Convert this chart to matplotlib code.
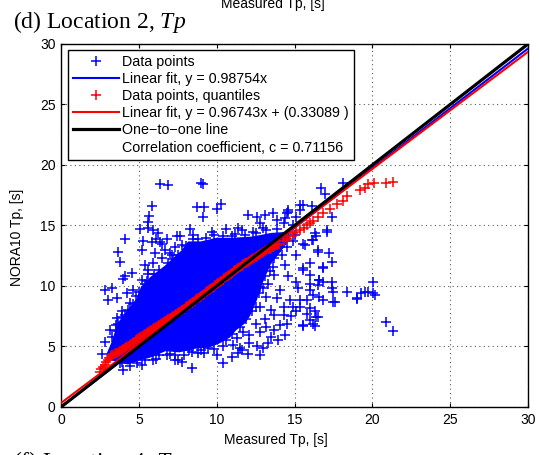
import matplotlib
matplotlib.use("Agg")
import matplotlib.pyplot as plt
from matplotlib.lines import Line2D

plt.rcParams['font.family'] = ['Liberation Sans', 'DejaVu Sans']
plt.rcParams['mathtext.fontset'] = 'custom'
plt.rcParams['mathtext.rm'] = 'Liberation Serif'
plt.rcParams['mathtext.it'] = 'Liberation Serif:italic'

# outline of the solid blue core of the cloud (measured Tp, NORA10 Tp)
core_x = [3.0, 3.4, 4.3, 5.0, 5.8, 6.7, 7.6, 8.6, 9.5, 10.1, 10.8, 11.2, 11.8, 12.1, 12.5, 12.9,
          13.4, 14.0, 14.6, 14.6, 13.5, 12.3, 11.0, 10.0, 9.0, 8.2, 7.8, 6.7, 5.8, 5.2, 4.9, 4.4, 3.7, 3.3]
core_y = [4.4, 3.9, 3.6, 3.9, 4.2, 4.7, 4.6, 4.9, 5.0, 5.3, 5.8, 6.4, 7.0, 7.6, 8.8, 10.3,
          11.8, 12.8, 13.8, 14.4, 14.3, 14.0, 13.9, 13.9, 13.6, 13.6, 12.9, 11.6, 10.7, 9.9, 8.9, 8.1, 6.9, 5.3]

# scattered data points outside the core
pts_x = [6.36, 6.85, 8.97, 9.14, 5.82, 8.71, 9.18, 10.0, 10.3, 9.1, 5.67, 5.57, 5.07, 5.61, 5.93, 4.11,
         6.25, 6.08, 6.79, 7.43, 7.64, 8.29, 8.5, 8.82, 9.68, 10.6, 11.4, 10.96, 5.29, 6.47,
         16.7, 16.96, 15.56, 16.1, 15.35, 14.6, 14.5, 13.1, 12.57, 12.0, 13.6, 15.1, 17.4, 17.1, 16.4, 16.1,
         16.3, 14.9, 14.3, 13.85, 12.8, 11.6, 12.35, 13.0, 18.1,
         5.82, 6.36, 3.68, 3.79, 5.18, 6.04, 6.68, 7.1, 7.32, 7.75, 5.93, 5.4, 5.6, 4.54, 4.11, 5.18,
         2.83, 3.26, 3.58, 3.04, 4.22, 4.65, 3.9, 4.32, 4.75, 5.07, 6.47, 4.0,
         15.56, 15.1, 16.5, 17.2, 14.4, 16.0, 16.85, 17.4, 15.56, 13.7, 14.6, 16.0, 16.6, 16.85, 17.4, 15.1,
         15.25, 16.0, 16.5, 17.5, 18.35, 19.0, 19.3, 19.7, 20.06, 20.06, 17.6, 16.85, 16.2, 15.8, 15.35, 16.0,
         16.3, 14.7, 14.3, 13.85, 14.07, 13.3, 12.8,
         20.9, 21.35, 15.56, 16.3, 16.5, 16.0, 15.8, 15.1, 14.5, 14.07, 14.4, 13.96, 13.5, 13.7, 13.3, 13.0,
         12.8, 12.0, 12.6, 11.6, 12.1, 12.8, 13.2, 12.1, 11.7, 12.5, 13.1, 13.7, 14.3, 14.8,
         8.4, 7.75, 7.32, 6.79, 4.0, 3.79, 2.83, 2.61, 3.15, 3.58, 3.68, 10.4, 10.0, 10.96, 11.4, 11.5,
         11.07, 8.82, 8.4, 9.46, 11.3, 3.9, 7.53,
         20.17, 19.5, 19.0, 16.85, 15.56, 17.06, 16.5, 16.2, 15.7, 14.6, 14.4, 15.35, 16.2, 16.4, 15.56, 14.9,
         15.35, 16.6, 17.5, 16.0, 16.6, 17.4,
         11.9, 12.35, 12.1, 12.8, 12.35, 13.2, 12.8, 13.5, 11.8, 13.6, 14.07, 13.2]
pts_y = [18.4, 18.35, 18.5, 18.4, 16.6, 16.5, 16.55, 16.4, 16.8, 15.7, 15.8, 15.3, 14.7, 14.8, 14.6, 13.9,
         14.35, 13.9, 13.9, 14.1, 14.1, 14.7, 14.2, 13.9, 14.5, 14.7, 14.8, 14.1, 13.7, 13.5,
         18.1, 17.6, 16.7, 16.6, 16.3, 16.3, 16.0, 15.9, 15.7, 15.9, 16.0, 15.7, 15.7, 14.5, 14.1, 13.8,
         14.4, 15.0, 15.2, 15.45, 15.2, 14.6, 14.5, 14.8, 18.5,
         13.66, 13.6, 12.8, 12.0, 13.0, 12.7, 13.0, 12.56, 13.25, 13.4, 11.9, 11.7, 11.3, 11.05, 10.8, 10.5,
         9.67, 9.8, 9.0, 8.84, 9.4, 9.67, 7.9, 8.0, 8.16, 8.57, 12.3, 10.6,
         13.5, 12.56, 12.8, 12.7, 11.7, 11.9, 11.6, 12.0, 11.3, 10.9, 10.8, 10.9, 10.5, 10.35, 10.35, 10.35,
         9.8, 9.67, 10.1, 9.5, 9.5, 8.9, 9.4, 9.5, 10.35, 9.4, 8.7, 8.84, 9.26, 8.84, 8.3, 8.16,
         7.9, 8.84, 8.3, 9.0, 9.67, 10.2, 11.2,
         7.0, 6.3, 6.7, 6.7, 7.4, 7.2, 7.7, 7.9, 6.9, 6.8, 5.95, 5.5, 5.8, 6.4, 5.26, 4.85,
         4.3, 4.4, 5.04, 4.7, 5.26, 6.2, 6.6, 5.95, 6.2, 6.9, 7.3, 7.6, 7.6, 7.5,
         3.2, 3.75, 3.9, 4.3, 3.06, 3.6, 5.4, 4.4, 6.36, 7.33, 6.9, 3.6, 4.3, 4.16, 4.44, 4.85,
         5.12, 4.44, 4.57, 4.85, 5.7, 3.75, 3.9,
         9.26, 9.5, 9.0, 11.5, 11.46, 14.6, 13.0, 13.8, 13.4, 16.1, 15.6, 16.7, 6.9, 7.46, 6.8, 8.3,
         8.84, 9.1, 8.7, 10.2, 10.5, 9.8,
         12.4, 11.6, 10.8, 9.9, 9.4, 9.1, 8.3, 8.0, 8.3, 11.6, 13.25, 13.25]

# data points hugging the edge of the core
edge_x = [3.3, 3.5, 3.9, 4.1, 4.6, 4.8, 5.0, 5.4, 5.5, 6.0, 6.3, 6.9, 7.2, 7.5, 8.0, 8.5, 9.3, 9.8,
          10.4, 11.2, 11.8, 12.5, 13.2, 13.9, 7.0, 5.6, 4.4, 3.5,
          3.6, 4.4, 4.9, 5.4, 5.9, 6.3, 7.0, 7.9, 8.2, 9.0, 9.8, 10.4, 10.6, 11.0, 11.5, 11.9,
          12.3, 12.5, 12.7, 13.0, 13.1, 13.4, 13.7, 14.2, 14.5, 14.9, 15.0, 6.1, 7.3, 5.2, 9.2]
edge_y = [5.8, 6.3, 7.4, 7.6, 8.5, 9.2, 9.5, 10.2, 10.4, 11.0, 11.3, 11.9, 12.2, 12.6, 13.3, 13.9, 14.0, 14.2,
          14.1, 14.3, 14.2, 14.4, 14.6, 14.7, 12.7, 11.0, 8.6, 6.8,
          3.9, 3.4, 3.6, 3.9, 3.9, 4.3, 4.4, 4.3, 4.7, 4.7, 4.8, 5.0, 5.5, 6.0, 6.6, 7.3,
          7.9, 8.3, 9.4, 9.8, 10.8, 11.2, 12.3, 12.6, 13.2, 13.7, 14.2, 4.0, 4.3, 3.5, 4.5]

# quantile-quantile points (measured quantile, NORA10 quantile)
q_x = [2.5, 2.6, 2.7, 2.8, 2.9, 3.0, 3.1, 3.2, 3.3, 3.4, 3.5, 3.6, 3.7, 3.8, 3.9, 4.0, 4.1, 4.2, 4.3, 4.4,
       4.5, 4.6, 4.7, 4.8, 4.9, 5.0, 5.1, 5.2, 5.3, 5.4, 5.5, 5.6, 5.7, 5.8, 5.9, 6.0, 6.1, 6.2, 6.3, 6.4,
       6.5, 6.6, 6.7, 6.8, 6.9, 7.0, 7.1, 7.2, 7.3, 7.4, 7.5, 7.6, 7.7, 7.8, 7.9, 8.0, 8.1, 8.2, 8.3, 8.4,
       8.5, 8.6, 8.7, 8.8, 8.9, 9.0, 9.1, 9.2, 9.3, 9.4, 9.5, 9.6, 9.7, 9.8, 9.9, 10.0, 10.1, 10.2, 10.3, 10.4,
       10.5, 10.6, 10.7, 10.8, 10.9, 11.0, 11.1, 11.2, 11.3, 11.4, 11.5, 11.6, 11.7, 11.8, 11.9, 12.0, 12.1,
       12.2, 12.3, 12.4, 12.5, 12.6, 12.7, 12.8, 12.9, 13.0, 13.1, 13.2, 13.3, 13.4, 13.5, 13.6, 13.7, 13.8,
       13.9, 14.0, 14.3, 14.5, 14.7, 14.9, 15.1, 15.35, 15.6, 15.8, 16.0, 16.2, 16.5, 16.85, 17.3, 17.7,
       18.1, 18.35, 19.2, 19.5, 19.7, 20.1, 20.9, 21.35]
q_y = [2.9, 3.1, 3.3, 3.5, 3.7, 3.9, 4.05, 4.2, 4.3, 4.37, 4.43, 4.5, 4.58, 4.65, 4.72, 4.8, 4.88, 4.97, 5.06, 5.15,
       5.23, 5.32, 5.41, 5.5, 5.58, 5.67, 5.75, 5.84, 5.92, 6.01, 6.1, 6.18, 6.26, 6.34, 6.42, 6.5, 6.58, 6.67, 6.75, 6.83,
       6.92, 7.0, 7.08, 7.17, 7.25, 7.33, 7.42, 7.5, 7.59, 7.69, 7.78, 7.87, 7.96, 8.05, 8.14, 8.24, 8.33, 8.42, 8.51, 8.6,
       8.7, 8.79, 8.89, 8.99, 9.08, 9.18, 9.28, 9.37, 9.47, 9.57, 9.66, 9.76, 9.86, 9.95, 10.05, 10.15, 10.24, 10.34, 10.44, 10.53,
       10.63, 10.73, 10.82, 10.92, 11.02, 11.11, 11.21, 11.31, 11.4, 11.5, 11.6, 11.69, 11.79, 11.86, 11.93, 12.0, 12.08,
       12.17, 12.25, 12.33, 12.42, 12.5, 12.58, 12.67, 12.75, 12.82, 12.88, 12.95, 13.02, 13.08, 13.15, 13.22, 13.28, 13.35,
       13.4, 13.46, 13.7, 13.9, 14.1, 14.35, 14.45, 14.6, 14.8, 15.0, 15.2, 15.4, 15.7, 16.0, 16.4, 16.75,
       17.0, 17.4, 17.9, 18.1, 18.4, 18.5, 18.55, 18.6]

slope_all = 0.98754
slope_q = 0.96743
icpt_q = 0.33089
corr = 0.71156
line_x = [0, 30]

fig = plt.figure(figsize=(5.4, 4.55), dpi=100)
ax = fig.add_axes([0.113, 0.1055, 0.8648, 0.7978])

mk = dict(ms=6.5, mew=1.1)
ax.fill(core_x, core_y, color='#0000ff', lw=1.5, ec='#0000ff', zorder=2)
h_pts, = ax.plot(pts_x, pts_y, '+', color='#0000ff', zorder=2, label='Data points', **mk)
ax.plot(edge_x, edge_y, '+', color='#0000ff', zorder=2, **mk)
h_bl, = ax.plot(line_x, [slope_all * v for v in line_x], color='#0000ff', lw=1.5, zorder=3,
                label='Linear fit, y = %.5fx' % slope_all)
h_q, = ax.plot(q_x, q_y, '+', color='#ff0000', zorder=4, label='Data points, quantiles', **mk)
h_rl, = ax.plot(line_x, [slope_q * v + icpt_q for v in line_x], color='#ff0000', lw=1.5, zorder=5,
                label='Linear fit, y = %.5fx + (%.5f )' % (slope_q, icpt_q))
h_k, = ax.plot(line_x, line_x, color='k', lw=2.3, zorder=6, label='One\u2212to\u2212one line')
h_c = Line2D([], [], ls='none', label='Correlation coefficient, c = %.5f' % corr)

ax.set_xlim(0, 30)
ax.set_ylim(0, 30)
ax.set_xticks(range(0, 31, 5))
ax.set_yticks(range(0, 31, 5))
ax.tick_params(direction='in', top=True, right=True, length=3, width=0.8, labelsize=10, pad=4)
ax.grid(True, ls=(0, (1, 3)), color='0.35', lw=0.8)
ax.set_axisbelow(True)
for s in ax.spines.values():
    s.set_linewidth(1.0)

ax.set_xlabel('Measured Tp, [s]', fontsize=10)
ax.xaxis.set_label_coords(0.46, -0.073)
ax.set_ylabel('NORA10 Tp, [s]', fontsize=10)
ax.yaxis.set_label_coords(-0.08, 0.468)

leg = ax.legend(handles=[h_pts, h_bl, h_q, h_rl, h_k, h_c], loc='upper left',
                bbox_to_anchor=(0.015, 0.984), borderaxespad=0, fontsize=10.3, labelspacing=0.22,
                handlelength=3.24, handletextpad=0.2, borderpad=0.35, fancybox=False, framealpha=1)
leg.get_frame().set_edgecolor('k')
leg.get_frame().set_linewidth(1.0)
leg.set_zorder(10)

fig.text(0.024, 0.938, r'(d) Location 2, $Tp$', family='Liberation Serif', fontsize=17, va='baseline')
fig.text(0.505, 0.982, 'Measured Tp, [s]', fontsize=10, ha='center', va='baseline')
fig.text(0.024, -0.029, r'(f) Location 4, $Tp$', family='Liberation Serif', fontsize=17, va='baseline')

fig.savefig('out.png', dpi=100)
